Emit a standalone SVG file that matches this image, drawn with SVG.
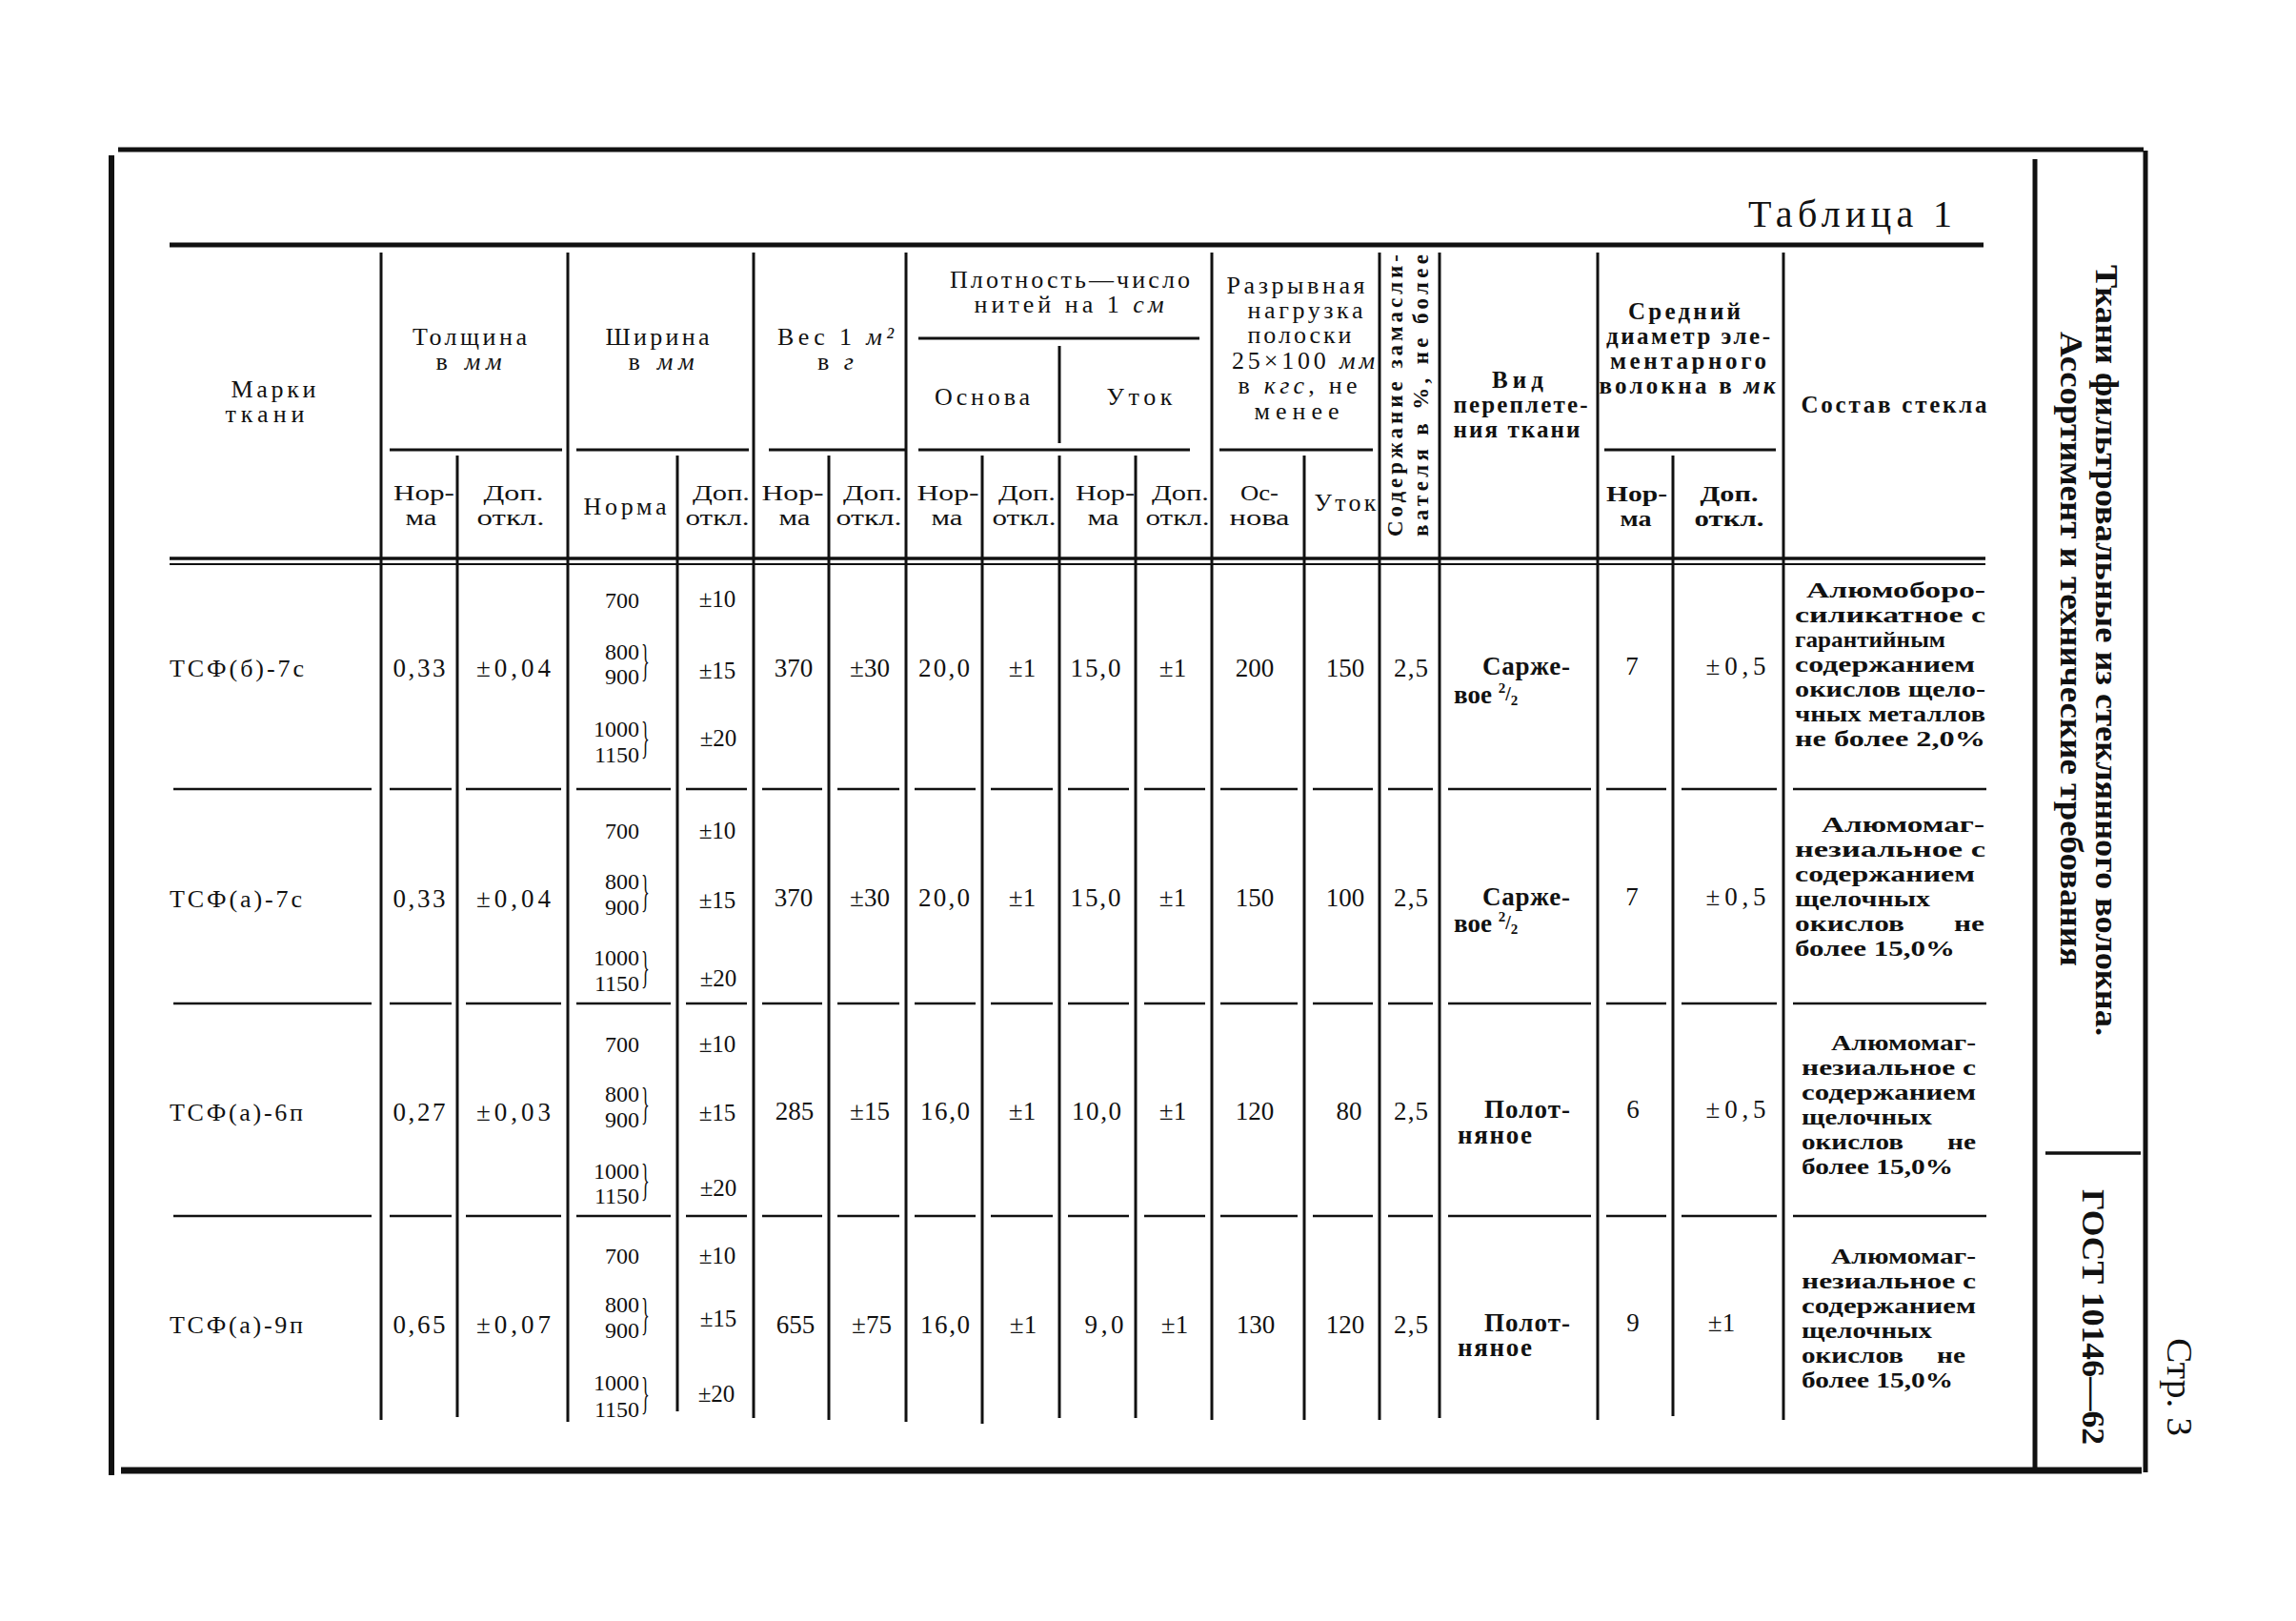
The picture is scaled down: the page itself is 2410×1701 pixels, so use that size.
<svg xmlns="http://www.w3.org/2000/svg" width="2410" height="1701" viewBox="0 0 2410 1701">
<style>
text{font-family:'Liberation Serif','Times New Roman',serif;fill:#111}
.h{font-size:26px;text-anchor:middle}
.h2{font-size:23px;text-anchor:middle}
.hb{font-size:25px;text-anchor:middle;font-weight:bold}
.hb2{font-size:23px;text-anchor:middle;font-weight:bold}
.d{font-size:27px;text-anchor:middle}
.nm{font-size:26px}
.s{font-size:24px;text-anchor:end}
.p{font-size:25px;text-anchor:middle}
.c{font-size:24px;font-weight:bold}
.ce{font-size:24px;font-weight:bold;text-anchor:end}
.b{font-size:27px;font-weight:bold}
.i{font-style:italic}
.br{font-size:46px}
line{stroke:#111;stroke-linecap:butt}
.v{stroke-width:3}
.r{stroke-width:2.5}
</style>
<rect width="2410" height="1701" fill="#fff"/>

<g id="frame">
<line x1="117" y1="163" x2="117" y2="1548" stroke-width="6"/>
<line x1="124" y1="157" x2="2250" y2="157" stroke-width="5"/>
<line x1="2252" y1="158" x2="2252" y2="1545" stroke-width="5"/>
<line x1="127" y1="1543" x2="2248" y2="1543" stroke-width="7"/>
<line x1="2136" y1="167" x2="2136" y2="1540" stroke-width="5"/>
<line x1="2147" y1="1210" x2="2247" y2="1210" stroke-width="3.5"/>
</g>

<g id="sidebar">
<text class="b" transform="translate(2200,278) rotate(90)" textLength="809" lengthAdjust="spacingAndGlyphs" style="font-size:34px">Ткани фильтровальные из стеклянного волокна.</text>
<text class="b" transform="translate(2163,348) rotate(90)" textLength="666" lengthAdjust="spacingAndGlyphs" style="font-size:34px">Ассортимент и технические требования</text>
<text class="b" transform="translate(2186,1248) rotate(90)" textLength="268" lengthAdjust="spacingAndGlyphs" style="font-size:34px">ГОСТ 10146—62</text>
<text transform="translate(2275,1404) rotate(90)" textLength="103" lengthAdjust="spacingAndGlyphs" style="font-size:38px">Стр. 3</text>
</g>

<g id="table-title">
<text x="1835" y="238" textLength="214" lengthAdjust="spacing" style="font-size:40px">Таблица 1</text>
</g>

<g id="connectors">
<line x1="178" y1="257" x2="2082" y2="257" stroke-width="5"/>
<line x1="178" y1="586" x2="2084" y2="586" stroke-width="3.5"/>
<line x1="178" y1="592" x2="2084" y2="592" stroke-width="2"/>
<line x1="964" y1="355" x2="1259" y2="355" class="v"/>
<line x1="409" y1="472" x2="590" y2="472" class="v"/>
<line x1="605" y1="472" x2="786" y2="472" class="v"/>
<line x1="807" y1="472" x2="950" y2="472" class="v"/>
<line x1="964" y1="472" x2="1249" y2="472" class="v"/>
<line x1="1280" y1="472" x2="1441" y2="472" class="v"/>
<line x1="1684" y1="472" x2="1864" y2="472" class="v"/>
<line x1="400" y1="265" x2="400" y2="1490" class="v"/>
<line x1="596" y1="265" x2="596" y2="1492" class="v"/>
<line x1="791" y1="265" x2="791" y2="1488" class="v"/>
<line x1="951" y1="265" x2="951" y2="1492" class="v"/>
<line x1="1272" y1="265" x2="1272" y2="1490" class="v"/>
<line x1="1448" y1="265" x2="1448" y2="1490" class="v"/>
<line x1="1511" y1="265" x2="1511" y2="1488" class="v"/>
<line x1="1677" y1="265" x2="1677" y2="1490" class="v"/>
<line x1="1872" y1="265" x2="1872" y2="1490" class="v"/>
<line x1="480" y1="478" x2="480" y2="1487" class="v"/>
<line x1="711" y1="478" x2="711" y2="1481" class="v"/>
<line x1="870" y1="478" x2="870" y2="1490" class="v"/>
<line x1="1031" y1="478" x2="1031" y2="1494" class="v"/>
<line x1="1112" y1="363" x2="1112" y2="465" class="v"/>
<line x1="1112" y1="478" x2="1112" y2="1488" class="v"/>
<line x1="1192" y1="478" x2="1192" y2="1488" class="v"/>
<line x1="1369" y1="478" x2="1369" y2="1490" class="v"/>
<line x1="1756" y1="478" x2="1756" y2="1486" class="v"/>
<g id="sep1">
<line x1="182" y1="828" x2="390" y2="828" class="r"/><line x1="409" y1="828" x2="474" y2="828" class="r"/><line x1="489" y1="828" x2="589" y2="828" class="r"/><line x1="605" y1="828" x2="704" y2="828" class="r"/><line x1="720" y1="828" x2="784" y2="828" class="r"/><line x1="800" y1="828" x2="863" y2="828" class="r"/><line x1="879" y1="828" x2="944" y2="828" class="r"/><line x1="960" y1="828" x2="1024" y2="828" class="r"/><line x1="1040" y1="828" x2="1105" y2="828" class="r"/><line x1="1121" y1="828" x2="1185" y2="828" class="r"/><line x1="1201" y1="828" x2="1265" y2="828" class="r"/><line x1="1281" y1="828" x2="1362" y2="828" class="r"/><line x1="1378" y1="828" x2="1441" y2="828" class="r"/><line x1="1457" y1="828" x2="1504" y2="828" class="r"/><line x1="1520" y1="828" x2="1670" y2="828" class="r"/><line x1="1686" y1="828" x2="1749" y2="828" class="r"/><line x1="1765" y1="828" x2="1865" y2="828" class="r"/><line x1="1882" y1="828" x2="2085" y2="828" class="r"/>
</g>
<g id="sep2">
<line x1="182" y1="1053" x2="390" y2="1053" class="r"/><line x1="409" y1="1053" x2="474" y2="1053" class="r"/><line x1="489" y1="1053" x2="589" y2="1053" class="r"/><line x1="605" y1="1053" x2="704" y2="1053" class="r"/><line x1="720" y1="1053" x2="784" y2="1053" class="r"/><line x1="800" y1="1053" x2="863" y2="1053" class="r"/><line x1="879" y1="1053" x2="944" y2="1053" class="r"/><line x1="960" y1="1053" x2="1024" y2="1053" class="r"/><line x1="1040" y1="1053" x2="1105" y2="1053" class="r"/><line x1="1121" y1="1053" x2="1185" y2="1053" class="r"/><line x1="1201" y1="1053" x2="1265" y2="1053" class="r"/><line x1="1281" y1="1053" x2="1362" y2="1053" class="r"/><line x1="1378" y1="1053" x2="1441" y2="1053" class="r"/><line x1="1457" y1="1053" x2="1504" y2="1053" class="r"/><line x1="1520" y1="1053" x2="1670" y2="1053" class="r"/><line x1="1686" y1="1053" x2="1749" y2="1053" class="r"/><line x1="1765" y1="1053" x2="1865" y2="1053" class="r"/><line x1="1882" y1="1053" x2="2085" y2="1053" class="r"/>
</g>
<g id="sep3">
<line x1="182" y1="1276" x2="390" y2="1276" class="r"/><line x1="409" y1="1276" x2="474" y2="1276" class="r"/><line x1="489" y1="1276" x2="589" y2="1276" class="r"/><line x1="605" y1="1276" x2="704" y2="1276" class="r"/><line x1="720" y1="1276" x2="784" y2="1276" class="r"/><line x1="800" y1="1276" x2="863" y2="1276" class="r"/><line x1="879" y1="1276" x2="944" y2="1276" class="r"/><line x1="960" y1="1276" x2="1024" y2="1276" class="r"/><line x1="1040" y1="1276" x2="1105" y2="1276" class="r"/><line x1="1121" y1="1276" x2="1185" y2="1276" class="r"/><line x1="1201" y1="1276" x2="1265" y2="1276" class="r"/><line x1="1281" y1="1276" x2="1362" y2="1276" class="r"/><line x1="1378" y1="1276" x2="1441" y2="1276" class="r"/><line x1="1457" y1="1276" x2="1504" y2="1276" class="r"/><line x1="1520" y1="1276" x2="1670" y2="1276" class="r"/><line x1="1686" y1="1276" x2="1749" y2="1276" class="r"/><line x1="1765" y1="1276" x2="1865" y2="1276" class="r"/><line x1="1882" y1="1276" x2="2085" y2="1276" class="r"/>
</g>
</g>

<g id="header">
<text class="h" x="287" y="417" textLength="89">Марки</text>
<text class="h" x="278" y="443" textLength="83">ткани</text>
<text class="h" x="493" y="362" textLength="120">Толщина</text>
<text class="h" x="492" y="388" textLength="69">в <tspan class="i">мм</tspan></text>
<text class="h" x="690" y="362" textLength="109">Ширина</text>
<text class="h" x="694" y="388" textLength="69">в <tspan class="i">мм</tspan></text>
<text class="h2" x="445" y="525" textLength="64" lengthAdjust="spacingAndGlyphs">Нор-</text>
<text class="h2" x="442" y="551" textLength="33" lengthAdjust="spacingAndGlyphs">ма</text>
<text class="h2" x="539" y="525" textLength="63" lengthAdjust="spacingAndGlyphs">Доп.</text>
<text class="h2" x="536" y="551" textLength="71" lengthAdjust="spacingAndGlyphs">откл.</text>
<text class="h" x="656" y="540" textLength="87">Норма</text>
<text class="h2" x="757" y="525" textLength="60" lengthAdjust="spacingAndGlyphs">Доп.</text>
<text class="h2" x="753" y="551" textLength="67" lengthAdjust="spacingAndGlyphs">откл.</text>
<text class="h" x="877" y="362" textLength="122">Вес 1 <tspan class="i">м²</tspan></text>
<text class="h" x="877" y="388" textLength="38">в <tspan class="i">г</tspan></text>
<text class="h2" x="832" y="525" textLength="65" lengthAdjust="spacingAndGlyphs">Нор-</text>
<text class="h2" x="834" y="551" textLength="33" lengthAdjust="spacingAndGlyphs">ма</text>
<text class="h2" x="916" y="525" textLength="62" lengthAdjust="spacingAndGlyphs">Доп.</text>
<text class="h2" x="912" y="551" textLength="69" lengthAdjust="spacingAndGlyphs">откл.</text>
<text class="h" x="1123" y="302" textLength="252">Плотность—число</text>
<text class="h" x="1122" y="328" textLength="199">нитей на 1 <tspan class="i">см</tspan></text>
<text class="h" x="1031" y="425" textLength="100">Основа</text>
<text class="h" x="1196" y="425" textLength="69">Уток</text>
<text class="h2" x="995" y="525" textLength="65" lengthAdjust="spacingAndGlyphs">Нор-</text>
<text class="h2" x="994" y="551" textLength="33" lengthAdjust="spacingAndGlyphs">ма</text>
<text class="h2" x="1078" y="525" textLength="60" lengthAdjust="spacingAndGlyphs">Доп.</text>
<text class="h2" x="1075" y="551" textLength="67" lengthAdjust="spacingAndGlyphs">откл.</text>
<text class="h2" x="1160" y="525" textLength="62" lengthAdjust="spacingAndGlyphs">Нор-</text>
<text class="h2" x="1158" y="551" textLength="33" lengthAdjust="spacingAndGlyphs">ма</text>
<text class="h2" x="1239" y="525" textLength="60" lengthAdjust="spacingAndGlyphs">Доп.</text>
<text class="h2" x="1236" y="551" textLength="67" lengthAdjust="spacingAndGlyphs">откл.</text>
<text class="h" x="1360" y="308" textLength="145">Разрывная</text>
<text class="h" x="1370" y="334" textLength="121">нагрузка</text>
<text class="h" x="1364" y="360" textLength="109">полоски</text>
<text class="h" x="1368" y="387" textLength="150">25×100 <tspan class="i">мм</tspan></text>
<text class="h" x="1362" y="413" textLength="125">в <tspan class="i">кгс</tspan>, не</text>
<text class="h" x="1361" y="440" textLength="89">менее</text>
<text class="h2" x="1322" y="525" textLength="40" lengthAdjust="spacingAndGlyphs">Ос-</text>
<text class="h2" x="1322" y="551" textLength="63" lengthAdjust="spacingAndGlyphs">нова</text>
<text class="h" x="1412" y="536" textLength="65">Уток</text>
<text class="hb" transform="translate(1472,563) rotate(-90)" textLength="296" lengthAdjust="spacing" style="text-anchor:start;font-size:23px">Содержание замасли-</text>
<text class="hb" transform="translate(1499,563) rotate(-90)" textLength="296" lengthAdjust="spacing" style="text-anchor:start;font-size:23px">вателя в %, не более</text>
<text class="hb" x="1593" y="407" textLength="54">Вид</text>
<text class="hb" x="1596" y="433" textLength="141">переплете-</text>
<text class="hb" x="1592" y="459" textLength="133">ния ткани</text>
<text class="hb" x="1768" y="335" textLength="118">Средний</text>
<text class="hb" x="1772" y="361" textLength="172">диаметр эле-</text>
<text class="hb" x="1772" y="387" textLength="164">ментарного</text>
<text class="hb" x="1771" y="413" textLength="185">волокна в <tspan class="i">мк</tspan></text>
<text class="hb2" x="1718" y="526" textLength="64" lengthAdjust="spacingAndGlyphs">Нор-</text>
<text class="hb2" x="1717" y="552" textLength="33" lengthAdjust="spacingAndGlyphs">ма</text>
<text class="hb2" x="1815" y="526" textLength="61" lengthAdjust="spacingAndGlyphs">Доп.</text>
<text class="hb2" x="1815" y="552" textLength="73" lengthAdjust="spacingAndGlyphs">откл.</text>
<text class="hb" x="1988" y="433" textLength="195">Состав стекла</text>
</g>

<g id="row1">
<text class="nm" x="178" y="710" textLength="141">ТСФ(б)-7с</text>
<text class="d" x="440" y="710" textLength="55">0,33</text>
<text class="d" x="539" y="710" textLength="78">±0,04</text>
<text class="s" x="671" y="638">700</text>
<text class="s" x="671" y="692">800</text>
<text class="s" x="671" y="718">900</text>
<text class="br" transform="translate(673,709) scale(0.4,1)">}</text>
<text class="s" x="671" y="773">1000</text>
<text class="s" x="671" y="800">1150</text>
<text class="br" transform="translate(673,790) scale(0.4,1)">}</text>
<text class="p" x="753" y="637">±10</text>
<text class="p" x="753" y="712">±15</text>
<text class="p" x="754" y="783">±20</text>
<text class="d" x="833" y="710">370</text>
<text class="d" x="913" y="710">±30</text>
<text class="d" x="991" y="710" textLength="54">20,0</text>
<text class="d" x="1073" y="710">±1</text>
<text class="d" x="1150" y="710" textLength="53">15,0</text>
<text class="d" x="1231" y="710">±1</text>
<text class="d" x="1317" y="710">200</text>
<text class="d" x="1412" y="710">150</text>
<text class="d" x="1481" y="710" textLength="36">2,5</text>
<text class="b" x="1556" y="708" textLength="92">Сарже-</text>
<text class="b" x="1526" y="738">вое <tspan style="font-size:15px" dy="-11">2</tspan><tspan style="font-size:20px" dy="8">/</tspan><tspan style="font-size:15px" dy="5">2</tspan></text>
<text class="d" x="1713" y="708">7</text>
<text class="d" x="1822" y="708" textLength="63">±0,5</text>
<text class="c" x="1896" y="627" textLength="188" lengthAdjust="spacingAndGlyphs">Алюмоборо-</text>
<text class="c" x="1884" y="653" textLength="200" lengthAdjust="spacingAndGlyphs">силикатное с</text>
<text class="c" x="1884" y="679" textLength="158" lengthAdjust="spacingAndGlyphs">гарантийным</text>
<text class="c" x="1884" y="705" textLength="189" lengthAdjust="spacingAndGlyphs">содержанием</text>
<text class="c" x="1884" y="731" textLength="200" lengthAdjust="spacingAndGlyphs">окислов щело-</text>
<text class="c" x="1884" y="757" textLength="200" lengthAdjust="spacingAndGlyphs">чных металлов</text>
<text class="c" x="1884" y="783" textLength="200" lengthAdjust="spacingAndGlyphs">не более 2,0%</text>
</g>

<g id="row2">
<text class="nm" x="178" y="952" textLength="139">ТСФ(а)-7с</text>
<text class="d" x="440" y="952" textLength="55">0,33</text>
<text class="d" x="539" y="952" textLength="78">±0,04</text>
<text class="s" x="671" y="880">700</text>
<text class="s" x="671" y="933">800</text>
<text class="s" x="671" y="960">900</text>
<text class="br" transform="translate(673,951) scale(0.4,1)">}</text>
<text class="s" x="671" y="1013">1000</text>
<text class="s" x="671" y="1040">1150</text>
<text class="br" transform="translate(673,1031) scale(0.4,1)">}</text>
<text class="p" x="753" y="880">±10</text>
<text class="p" x="753" y="953">±15</text>
<text class="p" x="754" y="1035">±20</text>
<text class="d" x="833" y="951">370</text>
<text class="d" x="913" y="951">±30</text>
<text class="d" x="991" y="951" textLength="54">20,0</text>
<text class="d" x="1073" y="951">±1</text>
<text class="d" x="1150" y="951" textLength="53">15,0</text>
<text class="d" x="1231" y="951">±1</text>
<text class="d" x="1317" y="951">150</text>
<text class="d" x="1412" y="951">100</text>
<text class="d" x="1481" y="951" textLength="36">2,5</text>
<text class="b" x="1556" y="950" textLength="92">Сарже-</text>
<text class="b" x="1526" y="978">вое <tspan style="font-size:15px" dy="-11">2</tspan><tspan style="font-size:20px" dy="8">/</tspan><tspan style="font-size:15px" dy="5">2</tspan></text>
<text class="d" x="1713" y="950">7</text>
<text class="d" x="1822" y="950" textLength="63">±0,5</text>
<text class="c" x="1912" y="873" textLength="171" lengthAdjust="spacingAndGlyphs">Алюмомаг-</text>
<text class="c" x="1884" y="899" textLength="200" lengthAdjust="spacingAndGlyphs">незиальное с</text>
<text class="c" x="1884" y="925" textLength="189" lengthAdjust="spacingAndGlyphs">содержанием</text>
<text class="c" x="1884" y="951" textLength="142" lengthAdjust="spacingAndGlyphs">щелочных</text>
<text class="c" x="1884" y="977" textLength="115" lengthAdjust="spacingAndGlyphs">окислов</text>
<text class="ce" x="2083" y="977" textLength="32" lengthAdjust="spacingAndGlyphs">не</text>
<text class="c" x="1884" y="1003" textLength="168" lengthAdjust="spacingAndGlyphs">более 15,0%</text>
</g>

<g id="row3">
<text class="nm" x="178" y="1176" textLength="140">ТСФ(а)-6п</text>
<text class="d" x="440" y="1176" textLength="55">0,27</text>
<text class="d" x="539" y="1176" textLength="78">±0,03</text>
<text class="s" x="671" y="1104">700</text>
<text class="s" x="671" y="1156">800</text>
<text class="s" x="671" y="1183">900</text>
<text class="br" transform="translate(673,1174) scale(0.4,1)">}</text>
<text class="s" x="671" y="1237">1000</text>
<text class="s" x="671" y="1263">1150</text>
<text class="br" transform="translate(673,1254) scale(0.4,1)">}</text>
<text class="p" x="753" y="1104">±10</text>
<text class="p" x="753" y="1176">±15</text>
<text class="p" x="754" y="1255">±20</text>
<text class="d" x="834" y="1175">285</text>
<text class="d" x="913" y="1175">±15</text>
<text class="d" x="992" y="1175" textLength="52">16,0</text>
<text class="d" x="1073" y="1175">±1</text>
<text class="d" x="1151" y="1175" textLength="52">10,0</text>
<text class="d" x="1231" y="1175">±1</text>
<text class="d" x="1317" y="1175">120</text>
<text class="d" x="1416" y="1175">80</text>
<text class="d" x="1481" y="1175" textLength="36">2,5</text>
<text class="b" x="1558" y="1173" textLength="90">Полот-</text>
<text class="b" x="1530" y="1200" textLength="78">няное</text>
<text class="d" x="1714" y="1173">6</text>
<text class="d" x="1822" y="1173" textLength="63">±0,5</text>
<text class="c" x="1922" y="1102" textLength="152" lengthAdjust="spacingAndGlyphs">Алюмомаг-</text>
<text class="c" x="1891" y="1128" textLength="183" lengthAdjust="spacingAndGlyphs">незиальное с</text>
<text class="c" x="1891" y="1154" textLength="183" lengthAdjust="spacingAndGlyphs">содержанием</text>
<text class="c" x="1891" y="1180" textLength="137" lengthAdjust="spacingAndGlyphs">щелочных</text>
<text class="c" x="1891" y="1206" textLength="107" lengthAdjust="spacingAndGlyphs">окислов</text>
<text class="ce" x="2074" y="1206" textLength="30" lengthAdjust="spacingAndGlyphs">не</text>
<text class="c" x="1891" y="1232" textLength="159" lengthAdjust="spacingAndGlyphs">более 15,0%</text>
</g>

<g id="row4">
<text class="nm" x="178" y="1399" textLength="140">ТСФ(а)-9п</text>
<text class="d" x="440" y="1399" textLength="55">0,65</text>
<text class="d" x="539" y="1399" textLength="78">±0,07</text>
<text class="s" x="671" y="1326">700</text>
<text class="s" x="671" y="1377">800</text>
<text class="s" x="671" y="1404">900</text>
<text class="br" transform="translate(673,1395) scale(0.4,1)">}</text>
<text class="s" x="671" y="1459">1000</text>
<text class="s" x="671" y="1487">1150</text>
<text class="br" transform="translate(673,1478) scale(0.4,1)">}</text>
<text class="p" x="753" y="1326">±10</text>
<text class="p" x="754" y="1392">±15</text>
<text class="p" x="752" y="1471">±20</text>
<text class="d" x="835" y="1399">655</text>
<text class="d" x="915" y="1399">±75</text>
<text class="d" x="992" y="1399" textLength="52">16,0</text>
<text class="d" x="1074" y="1399">±1</text>
<text class="d" x="1159" y="1399" textLength="41">9,0</text>
<text class="d" x="1233" y="1399">±1</text>
<text class="d" x="1318" y="1399">130</text>
<text class="d" x="1412" y="1399">120</text>
<text class="d" x="1481" y="1399" textLength="36">2,5</text>
<text class="b" x="1558" y="1397" textLength="90">Полот-</text>
<text class="b" x="1530" y="1423" textLength="78">няное</text>
<text class="d" x="1714" y="1397">9</text>
<text class="d" x="1807" y="1397">±1</text>
<text class="c" x="1922" y="1326" textLength="152" lengthAdjust="spacingAndGlyphs">Алюмомаг-</text>
<text class="c" x="1891" y="1352" textLength="183" lengthAdjust="spacingAndGlyphs">незиальное с</text>
<text class="c" x="1891" y="1378" textLength="183" lengthAdjust="spacingAndGlyphs">содержанием</text>
<text class="c" x="1891" y="1404" textLength="137" lengthAdjust="spacingAndGlyphs">щелочных</text>
<text class="c" x="1891" y="1430" textLength="107" lengthAdjust="spacingAndGlyphs">окислов</text>
<text class="ce" x="2063" y="1430" textLength="30" lengthAdjust="spacingAndGlyphs">не</text>
<text class="c" x="1891" y="1456" textLength="159" lengthAdjust="spacingAndGlyphs">более 15,0%</text>
</g>
</svg>
